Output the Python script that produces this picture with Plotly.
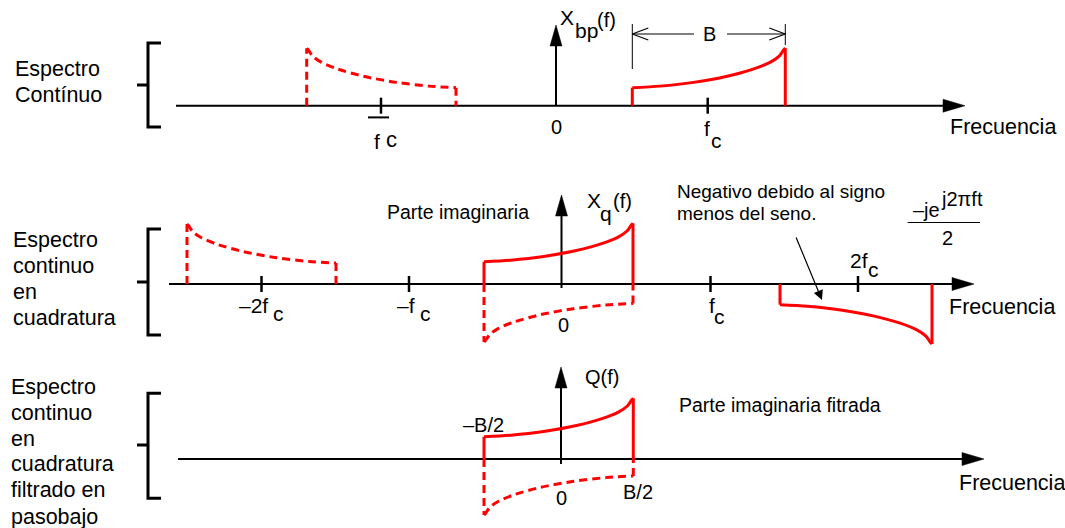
import plotly.graph_objects as go

W, H = 1065, 528
FONT = "Liberation Sans, Arial, sans-serif"
RED = "#ff0000"

# ---------------- data ----------------
# normalised spectral shape (u = position in band, s = relative height)
shape_u = [0, 0.18, 0.40, 0.62, 0.79, 0.90, 0.96, 0.99, 1.0]
shape_s = [0, 0.04, 0.135, 0.29, 0.47, 0.64, 0.80, 0.96, 1.0]

# panels: baseline, horizontal axis extent, vertical axis
panel_base = [105.7, 284.0, 459.0]
axis_start = [176, 169, 178]
axis_tip = [965, 974, 984]
vaxis_x = [556, 561.5, 561]
vaxis_tip = [25, 195, 367]
vaxis_bottom = [105.7, 288, 464]

# frequency tick marks per panel
tick_panel = [0, 0, 1, 1, 1, 1]
tick_f = [381, 707.7, 261.5, 409, 710.5, 858]

# spectral bands
band_panel = [0, 0, 1, 1, 1, 1, 2, 2]
band_f0 = [632.3, 306.7, 484, 484, 187, 780, 484, 484]
band_f1 = [785.3, 456, 633, 633, 336, 932, 633.3, 633.3]
band_low = [18, 18, 22.3, 19.5, 21, 20.7, 22.3, 17]
band_high = [57.5, 57.5, 60.7, 58, 60, 60, 60.7, 56]
band_sign = [1, 1, 1, -1, 1, -1, 1, -1]
band_rising = [True, False, True, False, False, True, True, False]
band_dashed = [False, True, False, True, True, False, False, True]

# left brackets
bracket_top = [43, 229, 393.3]
bracket_bot = [127, 335, 498.3]
bracket_mid = [85, 282, 445]

# ---------------- drawing ----------------
fig = go.Figure()


def line(xs, ys, color="black", width=2, dash="solid", shape="linear"):
    fig.add_trace(go.Scatter(x=xs, y=ys, mode="lines",
                             line=dict(color=color, width=width, dash=dash, shape=shape,
                                       smoothing=0.8 if shape == "spline" else None),
                             hoverinfo="skip", showlegend=False))


def tri(xs, ys, color="black"):
    fig.add_trace(go.Scatter(x=xs, y=ys, mode="lines", fill="toself", fillcolor=color,
                             line=dict(color=color, width=0.5), hoverinfo="skip",
                             showlegend=False))


AL, AH = 22, 6.5  # arrow head length / half width
for p in range(3):
    b = panel_base[p]
    line([axis_start[p], axis_tip[p] - AL + 1], [b, b], width=2)
    tri([axis_tip[p] - AL, axis_tip[p], axis_tip[p] - AL, axis_tip[p] - AL],
        [b - AH, b, b + AH, b - AH])
    vx = vaxis_x[p]
    line([vx, vx], [vaxis_bottom[p], vaxis_tip[p] + 20], width=2)
    tri([vx - 6, vx, vx + 6, vx - 6],
        [vaxis_tip[p] + 21, vaxis_tip[p], vaxis_tip[p] + 21, vaxis_tip[p] + 21])
    # bracket
    line([161, 148, 148, 161], [bracket_top[p], bracket_top[p], bracket_bot[p], bracket_bot[p]], width=3)
    line([137, 148], [bracket_mid[p], bracket_mid[p]], width=3)

for p, f in zip(tick_panel, tick_f):
    b = panel_base[p]
    line([f, f], [b - 8, b + 8], width=2.5)

for i in range(len(band_f0)):
    base = panel_base[band_panel[i]]
    f0, f1 = band_f0[i], band_f1[i]
    lo, hi = band_low[i], band_high[i]
    sgn = band_sign[i]
    if band_rising[i]:
        us, ss = shape_u, shape_s
    else:
        us = [1 - u for u in reversed(shape_u)]
        ss = list(reversed(shape_s))
    xs = [f0 + u * (f1 - f0) for u in us]
    ys = [base - sgn * (lo + (hi - lo) * s) for s in ss]
    dash = "8px,5px" if band_dashed[i] else "solid"
    line(xs, ys, RED, 3, dash, "spline")
    line([f0, f0], [base, ys[0]], RED, 3, dash)
    line([f1, f1], [ys[-1], base], RED, 3, dash)

# bandwidth dimension "B"
bl, br = band_f0[0], band_f1[0]
by = 34
line([bl, bl], [24, 69], width=1)
line([br, br], [24, 45], width=1)
line([bl, 694], [by, by], width=1)
line([727, br], [by, by], width=1)
line([bl + 16, bl, bl + 16], [by - 6, by, by + 6], width=1.2)
line([br - 16, br, br - 16], [by - 6, by, by + 6], width=1.2)

# minus bar of "-f c" in panel 1
line([368, 389], [117.4, 117.4], width=2)
# fraction bar
line([907.6, 980], [222.5, 222.5], width=1.2)

texts = [
    ("Espectro", 13, 69, 21.5, "left"),
    ("Contínuo", 13, 95, 21.5, "left"),
    ("Frecuencia", 948, 127, 21.5, "left"),
    ("0", 556, 127, 20, "center"),
    ("f", 707, 128, 21, "center"),
    ("c", 716, 140, 21, "center"),
    ("f", 377, 141, 21, "center"),
    ("c", 391, 139, 22, "center"),
    ("X", 567, 17, 21, "center"),
    ("bp", 586, 30, 21, "center"),
    ("(f)", 606, 20, 20, "center"),
    ("B", 709, 34, 20, "center"),
    # panel 2
    ("Espectro", 11, 240, 21.5, "left"),
    ("continuo", 11, 266, 21.5, "left"),
    ("en", 11, 292, 21.5, "left"),
    ("cuadratura", 11, 318, 21.5, "left"),
    ("Frecuencia", 947, 307, 21.5, "left"),
    ("0", 563, 325, 20, "center"),
    ("\u20132f", 253.5, 305, 21, "center"),
    ("c", 278, 313, 21, "center"),
    ("\u2013f", 406, 305, 21, "center"),
    ("c", 425, 313, 21, "center"),
    ("f", 712, 305, 21, "center"),
    ("c", 719, 316, 21, "center"),
    ("2f", 858.5, 260, 21, "center"),
    ("c", 873.5, 269, 21, "center"),
    ("Parte imaginaria", 458, 212, 19.5, "center"),
    ("X", 594, 200, 21, "center"),
    ("q", 606, 213, 21, "center"),
    ("(f)", 622, 201, 20, "center"),
    ("Negativo debido al signo", 675, 191, 19, "left"),
    ("menos del seno.", 675, 213.5, 19, "left"),
    ("\u2013je", 926, 210, 20, "center"),
    ("j2\u03c0ft", 962, 199, 20, "center"),
    ("2", 947, 238, 20, "center"),
    # panel 3
    ("Espectro", 9, 387, 21.5, "left"),
    ("continuo", 9, 413, 21.5, "left"),
    ("en", 9, 438.5, 21.5, "left"),
    ("cuadratura", 9, 464, 21.5, "left"),
    ("filtrado en", 9, 490, 21.5, "left"),
    ("pasobajo", 9, 516.5, 21.5, "left"),
    ("Frecuencia", 957, 483, 21.5, "left"),
    ("0", 561, 498, 20, "center"),
    ("\u2013B/2", 483.5, 425, 20, "center"),
    ("B/2", 638, 491.7, 20, "center"),
    ("Q(f)", 602, 377, 20, "center"),
    ("Parte imaginaria fitrada", 677, 405.4, 19.5, "left"),
]

annotations = []
for t, x, y, s, xa in texts:
    annotations.append(dict(text=t, x=x, y=y, xref="x", yref="y", showarrow=False,
                            xanchor=xa, yanchor="middle",
                            font=dict(family=FONT, size=s, color="black")))

# pointer arrow "Negativo debido al signo"
annotations.append(dict(text="", x=822, y=300, ax=795.5, ay=236, xref="x", yref="y",
                        axref="x", ayref="y", showarrow=True, arrowhead=2,
                        arrowsize=1.6, arrowwidth=1.2, arrowcolor="black"))

fig.update_layout(
    width=W, height=H,
    margin=dict(l=0, r=0, t=0, b=0),
    paper_bgcolor="white", plot_bgcolor="white",
    xaxis=dict(range=[0, W], visible=False, fixedrange=True),
    yaxis=dict(range=[H, 0], visible=False, fixedrange=True),
    annotations=annotations,
    showlegend=False,
)

fig.write_html("out.html", config={"displayModeBar": False},
               post_script="document.body.style.margin='0';document.body.style.overflow='hidden';")
